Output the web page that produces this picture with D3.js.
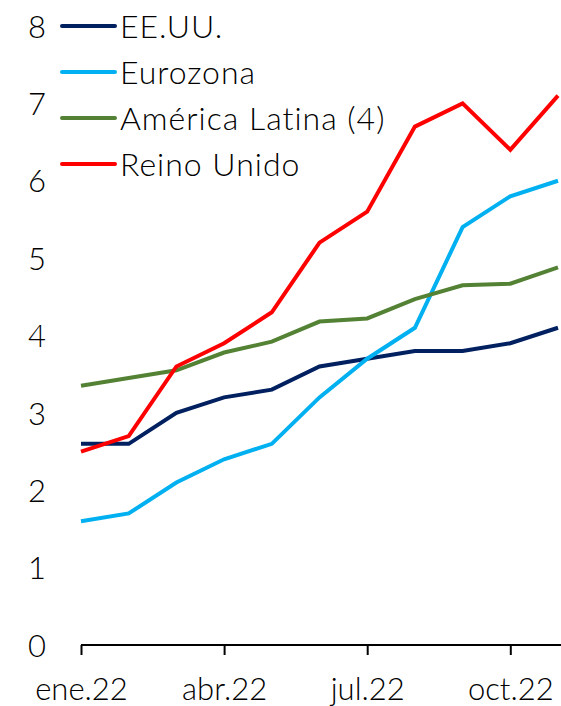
<!DOCTYPE html>
<html>
<head>
<meta charset="UTF-8">
<title>Inflación</title>
<script src="https://d3js.org/d3.v7.min.js"></script>
<style>
  body { margin: 0; background: #fff; }
  text { font-family: Lato, "Open Sans", sans-serif; font-weight: 300; fill: #000; }
</style>
</head>
<body>
<div id="chart"></div>
<script>
// data
var months = ["ene.22", "feb.22", "mar.22", "abr.22", "may.22", "jun.22",
              "jul.22", "ago.22", "sep.22", "oct.22", "nov.22"];
var tickMonths = ["ene.22", "abr.22", "jul.22", "oct.22"];
var yTicks = [0, 1, 2, 3, 4, 5, 6, 7, 8];

var eeuu     = [2.6, 2.6, 3.0, 3.2, 3.3, 3.6, 3.7, 3.8, 3.8, 3.9, 4.1];
var eurozona = [1.6, 1.7, 2.1, 2.4, 2.6, 3.2, 3.7, 4.1, 5.4, 5.8, 6.0];
var amlat    = [3.35, 3.45, 3.55, 3.78, 3.92, 4.18, 4.22, 4.47, 4.65, 4.67, 4.88];
var reino    = [2.5, 2.7, 3.6, 3.9, 4.3, 5.2, 5.6, 6.7, 7.0, 6.4, 7.1];

var seriesNames = ["EE.UU.", "Eurozona", "América Latina (4)", "Reino Unido"];
var seriesData  = [eeuu, eurozona, amlat, reino];
var colors      = ["#002060", "#00B0F0", "#548235", "#FF0000"];

var width = 561, height = 706;

var svg = d3.select("#chart")
            .append("svg")
            .attr("width", width)
            .attr("height", height);

var xScale = d3.scalePoint()
               .domain(months)
               .range([81, 558]);

var yScale = d3.scaleLinear()
               .domain([0, 8])
               .range([645, 26]);

// y labels (no axis line)
var yAxis = d3.axisLeft(yScale)
              .tickValues(yTicks)
              .tickSize(0)
              .tickPadding(0);

var gy = svg.append("g")
            .attr("transform", "translate(46,0)")
            .call(yAxis);
gy.select(".domain").remove();
gy.selectAll("text")
  .attr("font-size", 31)
  .attr("font-family", null)
  .attr("dy", "0.36em");

// x axis
var xAxis = d3.axisBottom(xScale)
              .tickValues(tickMonths)
              .tickSizeInner(10)
              .tickSizeOuter(0)
              .tickPadding(23);

var gx = svg.append("g")
            .attr("transform", "translate(0," + yScale(0) + ")")
            .call(xAxis);
gx.select(".domain")
  .attr("d", "M" + xScale(months[0]) + ",0H" + width)
  .attr("stroke", "#000")
  .attr("stroke-width", 2);
gx.selectAll(".tick line")
  .attr("stroke", "#000")
  .attr("stroke-width", 2);
gx.selectAll("text")
  .attr("font-size", 31)
  .attr("font-family", null);

// lines
var line = d3.line()
             .x(function(d, i) { return xScale(months[i]); })
             .y(function(d) { return yScale(d); });

svg.append("g")
   .selectAll("path")
   .data(seriesData)
   .enter()
   .append("path")
   .attr("d", function(d) { return line(d); })
   .attr("fill", "none")
   .attr("stroke", function(d, i) { return colors[i]; })
   .attr("stroke-width", 4)
   .attr("stroke-linejoin", "miter");

// legend
var legend = svg.append("g")
                .selectAll("g")
                .data(seriesNames)
                .enter()
                .append("g")
                .attr("transform", function(d, i) { return "translate(62," + (26 + i * 46) + ")"; });

legend.append("line")
      .attr("x1", 0)
      .attr("x2", 53)
      .attr("stroke", function(d, i) { return colors[i]; })
      .attr("stroke-width", 4)
      .attr("stroke-linecap", "round");

legend.append("text")
      .attr("x", 58)
      .attr("dy", "0.36em")
      .attr("font-size", 32)
      .attr("letter-spacing", 1)
      .text(function(d) { return d; });
</script>
</body>
</html>
